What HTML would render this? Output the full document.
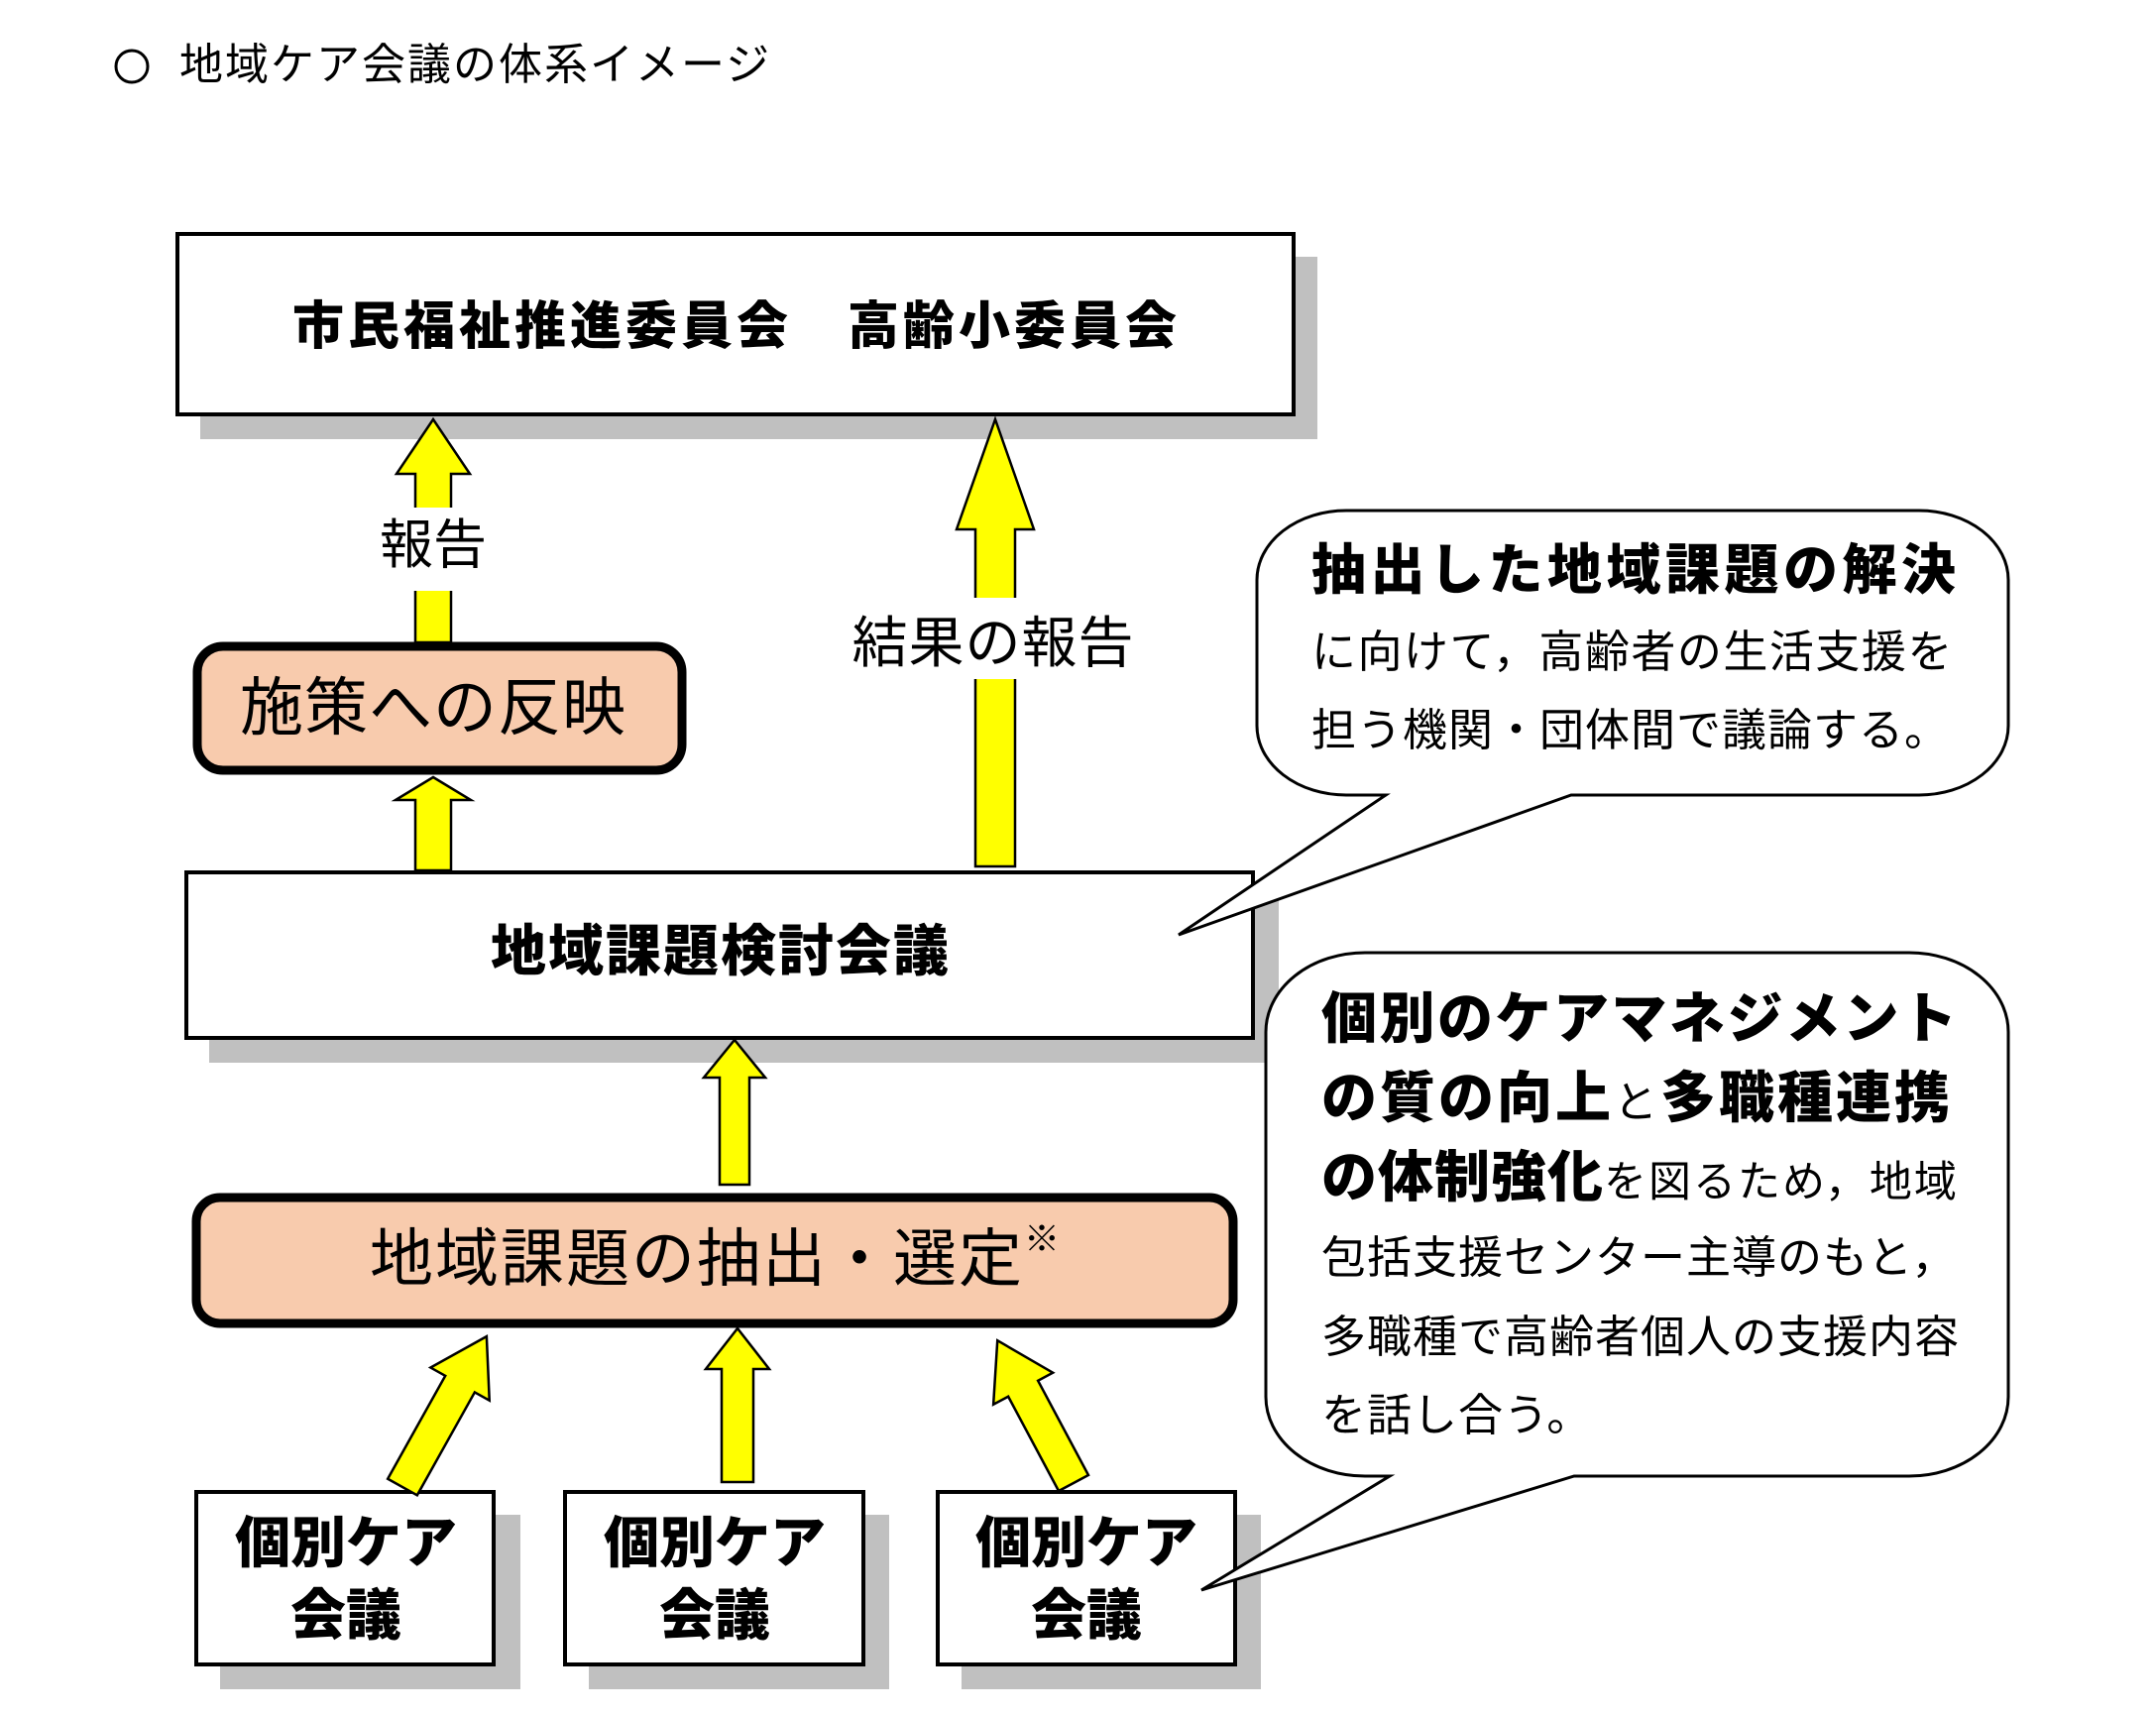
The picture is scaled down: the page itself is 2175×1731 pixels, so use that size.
<!DOCTYPE html>
<html><head><meta charset="utf-8">
<style>
html,body{margin:0;padding:0;background:#fff;}
body{width:2175px;height:1731px;position:relative;overflow:hidden;font-family:"Liberation Sans","Noto Sans CJK JP",sans-serif;color:#000;}
.t{position:absolute;white-space:nowrap;line-height:1;}
.c{transform:translate(-50%,-50%);}
.b{font-weight:900;}
svg{position:absolute;left:0;top:0;}
</style></head><body>
<svg width="2175" height="1731" viewBox="0 0 2175 1731">
  <rect x="202" y="259" width="1127" height="184" fill="#c0c0c0"/>
  <rect x="211" y="903" width="1079" height="169" fill="#c0c0c0"/>
  <rect x="222" y="1528" width="303" height="176" fill="#c0c0c0"/>
  <rect x="594" y="1528" width="303" height="176" fill="#c0c0c0"/>
  <rect x="970" y="1528" width="302" height="176" fill="#c0c0c0"/>
  <rect x="179" y="236" width="1126" height="182" fill="#fff" stroke="#000" stroke-width="4"/>
  <rect x="188" y="880" width="1076" height="167" fill="#fff" stroke="#000" stroke-width="4"/>
  <rect x="198" y="1505" width="300" height="174" fill="#fff" stroke="#000" stroke-width="4"/>
  <rect x="570" y="1505" width="301" height="174" fill="#fff" stroke="#000" stroke-width="4"/>
  <rect x="946" y="1505" width="300" height="174" fill="#fff" stroke="#000" stroke-width="4"/>
  <rect x="199" y="652" width="489" height="125" rx="26" fill="#f8cbad" stroke="#000" stroke-width="9"/>
  <rect x="198" y="1208" width="1046" height="127" rx="24" fill="#f8cbad" stroke="#000" stroke-width="9"/>
  <g fill="#ffff00" stroke="#000" stroke-width="2.5" stroke-linejoin="miter">
    <polygon points="419,648 419,478 400,478 437,423 474,478 455,478 455,648"/>
    <polygon points="984,874 984,534 965,534 1004,423 1043,534 1024,534 1024,874"/>
    <polygon points="419,878 419,807 399,807 437,784 475,807 455,807 455,878"/>
    <polygon points="726,1195 726,1087 710,1087 741,1049 772,1087 756,1087 756,1195"/>
    <polygon points="728,1495 728,1381 712,1381 744,1340 776,1381 760,1381 760,1495"/>
    <polygon transform="translate(406,1500) rotate(29.2)" points="-17,0 -17,-119 -34,-119 0,-174 34,-119 17,-119 17,0"/>
    <polygon transform="translate(1083,1496) rotate(-28.1)" points="-17,0 -17,-108 -34,-108 0,-163 34,-108 17,-108 17,0"/>
  </g>
  <rect x="400" y="512" width="75" height="84" fill="#fff"/>
  <rect x="960" y="603" width="80" height="82" fill="#fff"/>
  <path d="M1398 802 L1189 943 L1585 802 L1936 802 A90 70 0 0 0 2026 732 L2026 585 A90 70 0 0 0 1936 515 L1358 515 A90 70 0 0 0 1268 585 L1268 732 A90 70 0 0 0 1358 802 Z" fill="#fff" stroke="#000" stroke-width="3"/>
  <path d="M1402 1489 L1212 1604 L1588 1489 L1926 1489 A100 80 0 0 0 2026 1409 L2026 1041 A100 80 0 0 0 1926 961 L1377 961 A100 80 0 0 0 1277 1041 L1277 1409 A100 80 0 0 0 1377 1489 Z" fill="#fff" stroke="#000" stroke-width="3"/>
  <circle cx="133" cy="67" r="16" fill="none" stroke="#000" stroke-width="3"/>
</svg>

<div class="t" style="left:181px;top:44px;font-size:44px;letter-spacing:2px;">地域ケア会議の体系イメージ</div>

<div class="t c b" style="left:743px;top:330px;font-size:52px;letter-spacing:4px;">市民福祉推進委員会　高齢小委員会</div>
<div class="t c" style="left:437px;top:550px;font-size:54px;">報告</div>
<div class="t c" style="left:1002px;top:649px;font-size:56px;letter-spacing:1px;">結果の報告</div>
<div class="t c" style="left:437px;top:714px;font-size:64px;letter-spacing:1px;">施策への反映</div>
<div class="t c b" style="left:727px;top:960px;font-size:56px;letter-spacing:2px;">地域課題検討会議</div>
<div class="t c" style="left:722px;top:1270px;font-size:64px;letter-spacing:2px;">地域課題の抽出・選定<sup style="font-size:36px;vertical-align:top;position:relative;top:-6px;">※</sup></div>

<div class="t c b" style="left:349px;top:1557px;font-size:56px;">個別ケア</div>
<div class="t c b" style="left:349px;top:1630px;font-size:56px;">会議</div>
<div class="t c b" style="left:721px;top:1557px;font-size:56px;">個別ケア</div>
<div class="t c b" style="left:721px;top:1630px;font-size:56px;">会議</div>
<div class="t c b" style="left:1096px;top:1557px;font-size:56px;">個別ケア</div>
<div class="t c b" style="left:1096px;top:1630px;font-size:56px;">会議</div>

<div class="t b" style="left:1323px;top:548px;font-size:55px;letter-spacing:4.5px;">抽出した地域課題の解決</div>
<div class="t" style="left:1323px;top:635px;font-size:45px;letter-spacing:1.5px;">に向けて，高齢者の生活支援を</div>
<div class="t" style="left:1323px;top:714px;font-size:45px;letter-spacing:1px;">担う機関・団体間で議論する。</div>

<div class="t b" style="left:1333px;top:1000px;font-size:56px;letter-spacing:2.5px;">個別のケアマネジメント</div>
<div class="t" style="left:1333px;top:1080px;font-size:56px;letter-spacing:3px;"><span class="b">の質の向上</span><span style="font-size:44px;">と</span><span class="b">多職種連携</span></div>
<div class="t" style="left:1333px;top:1160px;font-size:56px;letter-spacing:1px;"><span class="b">の体制強化</span><span style="font-size:43px;letter-spacing:2px;">を図るため，地域</span></div>
<div class="t" style="left:1333px;top:1246px;font-size:45px;letter-spacing:1px;">包括支援センター主導のもと，</div>
<div class="t" style="left:1333px;top:1326px;font-size:45px;letter-spacing:1px;">多職種で高齢者個人の支援内容</div>
<div class="t" style="left:1333px;top:1405px;font-size:45px;letter-spacing:1px;">を話し合う。</div>
</body></html>
